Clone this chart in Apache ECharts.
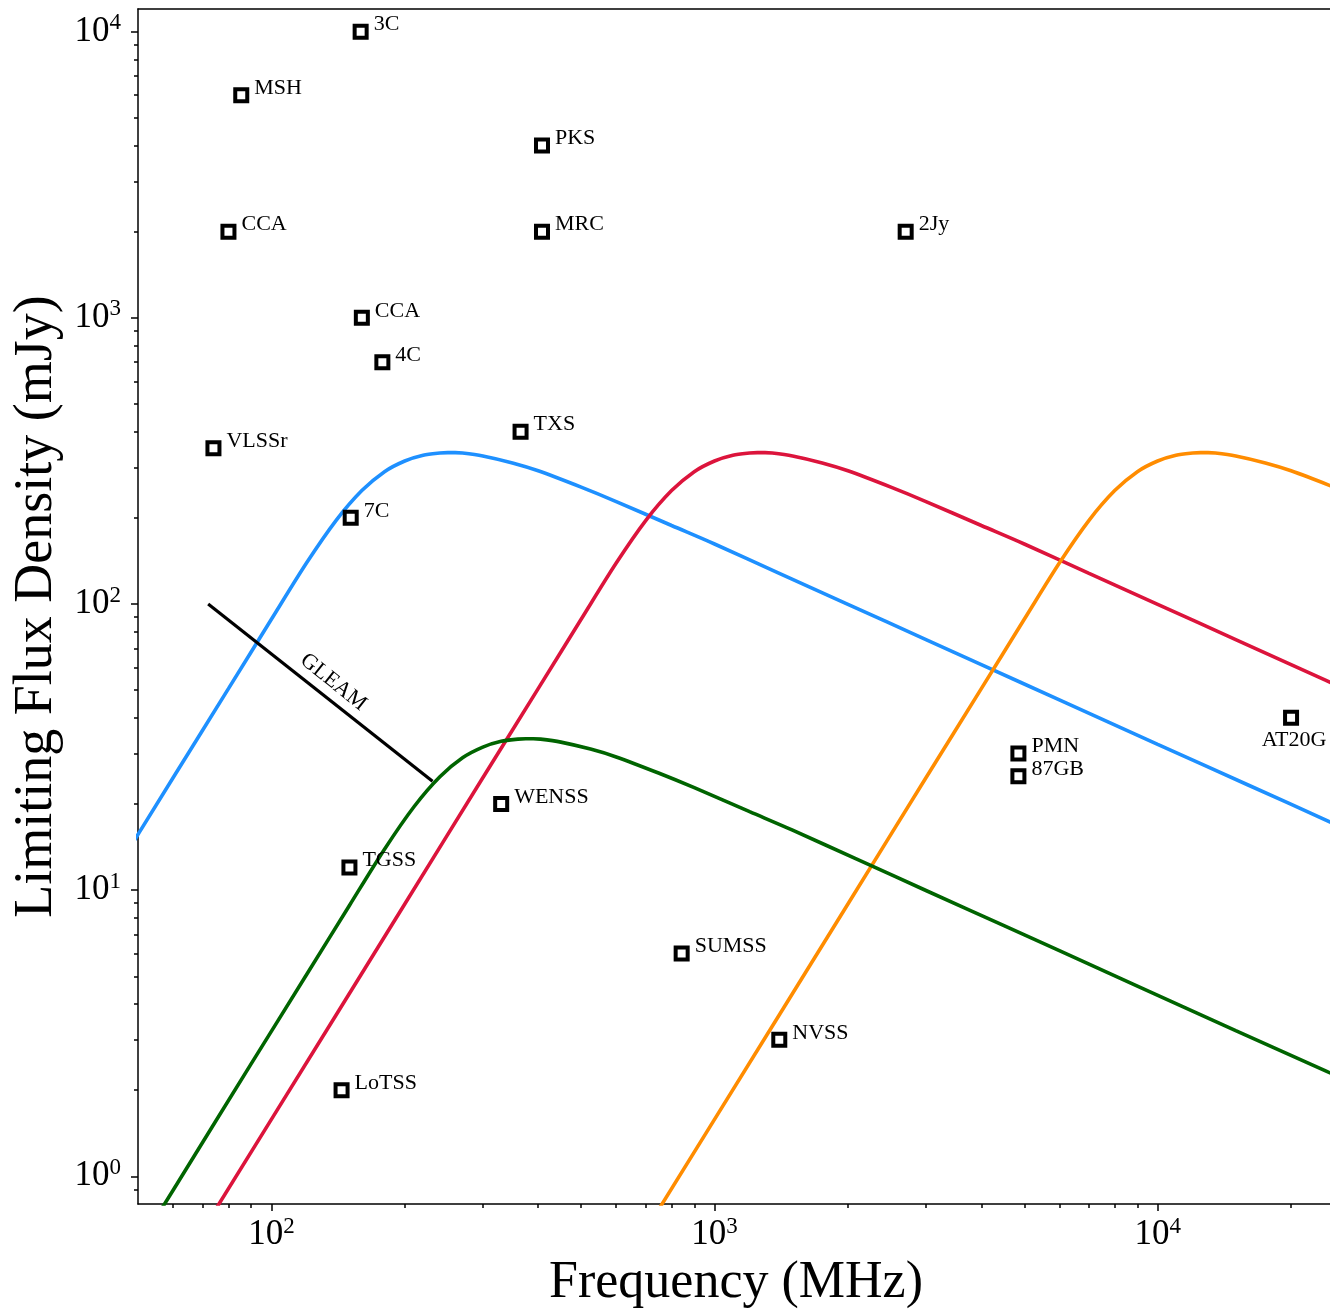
<!DOCTYPE html>
<html>
<head>
<meta charset="utf-8">
<script src="https://cdn.jsdelivr.net/npm/echarts@6/dist/echarts.min.js"></script>
<style>
html,body{margin:0;padding:0;background:#fff;}
#chart{width:1330px;height:1314px;}
</style>
</head>
<body>
<div id="chart"></div>
<script>
// ---- Survey limits (frequency MHz, limiting flux mJy) ----
const surveyNames = ['3C','MSH','PKS','CCA','MRC','2Jy','CCA','4C','TXS','VLSSr','7C','AT20G','PMN','87GB','WENSS','TGSS','SUMSS','NVSS','LoTSS'];
const surveyFreq  = [159, 85.5, 408, 80, 408, 2700, 160, 178, 365, 74, 151, 20000, 4850, 4850, 330, 150, 843, 1400, 144];
const surveyFlux  = [10000, 6000, 4000, 2000, 2000, 2000, 1000, 700, 400, 350, 200, 40, 30, 25, 20, 12, 6, 3, 2];

// ---- GLEAM limit line ----
const gleamFreq = [72, 231];
const gleamFlux = [100, 24];
const gleamLabelAt = [138, 53.3];

// ---- Peaked-spectrum curves ----
const blueFreq = [40, 60, 80, 100, 120, 140, 160, 180, 200, 220, 240, 250, 260, 270, 300, 350, 400, 500, 600, 800, 1000, 1400, 2000, 3000, 4000, 6000, 10000, 16000, 26000];
const blueFlux = [8.94, 24.7, 50.6, 88.4, 139, 196, 249, 290, 316, 331, 337, 338, 338, 337, 329, 311, 292, 256, 228, 188, 162, 128, 99.7, 75.1, 61.4, 46.2, 32.3, 23.3, 16.6];

const redFreq = [50, 100, 200, 300, 400, 500, 600, 700, 800, 900, 1000, 1100, 1200, 1250, 1300, 1350, 1500, 1750, 2000, 2500, 3000, 4000, 5000, 7000, 10000, 15000, 20000, 30000];
const redFlux = [0.28, 1.58, 8.94, 24.7, 50.6, 88.4, 139, 196, 249, 290, 316, 331, 337, 338, 338, 337, 329, 311, 292, 256, 228, 188, 162, 128, 99.7, 75.1, 61.4, 46.2];

const orangeFreq = [500, 1000, 2000, 3000, 4000, 5000, 6000, 7000, 8000, 9000, 10000, 11000, 12000, 12500, 13000, 13500, 15000, 17500, 20000, 25000, 30000];
const orangeFlux = [0.28, 1.58, 8.94, 24.7, 50.6, 88.4, 139, 196, 249, 290, 316, 331, 337, 338, 338, 337, 329, 311, 292, 256, 228];

const greenFreq = [30, 60, 90, 120, 150, 180, 210, 240, 270, 300, 330, 360, 375, 390, 405, 450, 525, 600, 750, 900, 1200, 1500, 2100, 3000, 4500, 6000, 9000, 15000, 24000, 39000];
const greenFlux = [0.158, 0.894, 2.47, 5.06, 8.84, 13.9, 19.6, 24.9, 29.0, 31.6, 33.1, 33.7, 33.8, 33.8, 33.7, 32.9, 31.1, 29.2, 25.6, 22.8, 18.8, 16.2, 12.8, 9.97, 7.51, 6.14, 4.62, 3.23, 2.33, 1.66];

// ---- Axes ----
const xMin = 50, xMax = 25000;
const yMin = 0.8, yMax = 12000;
const xMajorTicks = [100, 1000, 10000];
const xMinorTicks = [60, 70, 80, 90, 200, 300, 400, 500, 600, 700, 800, 900, 2000, 3000, 4000, 5000, 6000, 7000, 8000, 9000, 20000];
const yMajorTicks = [1, 10, 100, 1000, 10000];
const yMinorTicks = [0.9, 2, 3, 4, 5, 6, 7, 8, 9, 20, 30, 40, 50, 60, 70, 80, 90, 200, 300, 400, 500, 600, 700, 800, 900, 2000, 3000, 4000, 5000, 6000, 7000, 8000, 9000];

const FONT = 'Liberation Serif';
const pair = (xs, ys) => xs.map((x, i) => [x, ys[i]]);
function powLabel(v) {
  const e = Math.round(Math.log10(v));
  return '{b|10}{s|' + e + '}';
}
const rich = {
  b: { fontSize: 35, fontFamily: FONT, color: '#000', lineHeight: 40 },
  s: { fontSize: 23, fontFamily: FONT, color: '#000', lineHeight: 24, verticalAlign: 'top' }
};
const lineStyleAxis = { color: '#000', width: 1.5 };
const CURVE_W = 3.6;

const chart = echarts.init(document.getElementById('chart'), null, { renderer: 'canvas' });

const surveyData = surveyFreq.map((f, i) => {
  const item = { value: [f, surveyFlux[i]], name: surveyNames[i] };
  if (surveyNames[i] === 'AT20G') {
    item.label = { position: 'bottom', distance: 3, offset: [3, 0] };
  }
  return item;
});

const option = {
  animation: false,
  backgroundColor: '#fff',
  grid: { left: 138, top: 9, right: -4, bottom: 110, outerBoundsMode: 'none', containLabel: false },
  xAxis: [
    {
      type: 'log', logBase: 10, min: xMin, max: xMax, position: 'bottom',
      axisLine: { show: true, onZero: false, lineStyle: lineStyleAxis },
      axisTick: { show: true, inside: false, length: 7, lineStyle: lineStyleAxis, customValues: xMajorTicks },
      axisLabel: { show: true, customValues: xMajorTicks, formatter: powLabel, rich: rich, margin: 11 },
      minorTick: { show: false },
      splitLine: { show: false },
      name: 'Frequency (MHz)', nameLocation: 'middle', nameGap: 50,
      nameTextStyle: { fontSize: 52, fontFamily: FONT, color: '#000' }
    },
    {
      type: 'log', logBase: 10, min: xMin, max: xMax, position: 'bottom',
      axisLine: { show: false, onZero: false },
      axisTick: { show: true, inside: false, length: 4, lineStyle: lineStyleAxis, customValues: xMinorTicks },
      axisLabel: { show: false },
      splitLine: { show: false }
    },
    {
      type: 'log', logBase: 10, min: xMin, max: xMax, position: 'top',
      axisLine: { show: true, onZero: false, lineStyle: lineStyleAxis },
      axisTick: { show: false },
      axisLabel: { show: false },
      splitLine: { show: false }
    }
  ],
  yAxis: [
    {
      type: 'log', logBase: 10, min: yMin, max: yMax, position: 'left',
      axisLine: { show: true, onZero: false, lineStyle: lineStyleAxis },
      axisTick: { show: true, inside: false, length: 7, lineStyle: lineStyleAxis, customValues: yMajorTicks },
      axisLabel: { show: true, customValues: yMajorTicks, formatter: powLabel, rich: rich, margin: 17 },
      splitLine: { show: false },
      name: 'Limiting Flux Density (mJy)', nameLocation: 'middle', nameGap: 66, nameRotate: 90,
      nameTextStyle: { fontSize: 54, fontFamily: FONT, color: '#000' }
    },
    {
      type: 'log', logBase: 10, min: yMin, max: yMax, position: 'left',
      axisLine: { show: false, onZero: false },
      axisTick: { show: true, inside: false, length: 4, lineStyle: lineStyleAxis, customValues: yMinorTicks },
      axisLabel: { show: false },
      splitLine: { show: false }
    }
  ],
  series: [
    { type: 'line', name: 'blue', data: pair(blueFreq, blueFlux), showSymbol: false, symbol: 'none', smooth: 0.3,
      lineStyle: { color: '#1E90FF', width: CURVE_W }, clip: true, z: 2 },
    { type: 'line', name: 'red', data: pair(redFreq, redFlux), showSymbol: false, symbol: 'none', smooth: 0.3,
      lineStyle: { color: '#DC143C', width: CURVE_W }, clip: true, z: 2 },
    { type: 'line', name: 'orange', data: pair(orangeFreq, orangeFlux), showSymbol: false, symbol: 'none', smooth: 0.3,
      lineStyle: { color: '#FF8C00', width: CURVE_W }, clip: true, z: 2 },
    { type: 'line', name: 'GLEAM', data: pair(gleamFreq, gleamFlux), showSymbol: false, symbol: 'none',
      lineStyle: { color: '#000', width: 3.2 }, clip: true, z: 3 },
    { type: 'line', name: 'green', data: pair(greenFreq, greenFlux), showSymbol: false, symbol: 'none', smooth: 0.3,
      lineStyle: { color: '#006400', width: CURVE_W }, clip: true, z: 4 },
    { type: 'scatter', name: 'surveys', data: surveyData, symbol: 'rect', symbolSize: 12,
      itemStyle: { color: 'rgba(0,0,0,0)', borderColor: '#000', borderWidth: 4, opacity: 1 },
      label: { show: true, formatter: '{b}', position: 'right', distance: 5, offset: [0, -7],
               fontSize: 22, fontFamily: FONT, color: '#000' },
      z: 5, silent: true },
    { type: 'scatter', name: 'gleamLabel', data: [{ value: gleamLabelAt, name: 'GLEAM' }], symbolSize: 1,
      itemStyle: { color: 'rgba(0,0,0,0)' },
      label: { show: true, formatter: '{b}', position: 'inside', rotate: -38.7,
               fontSize: 22, fontFamily: FONT, color: '#000', opacity: 1 },
      z: 6, silent: true }
  ]
};
chart.setOption(option);
</script>
</body>
</html>
